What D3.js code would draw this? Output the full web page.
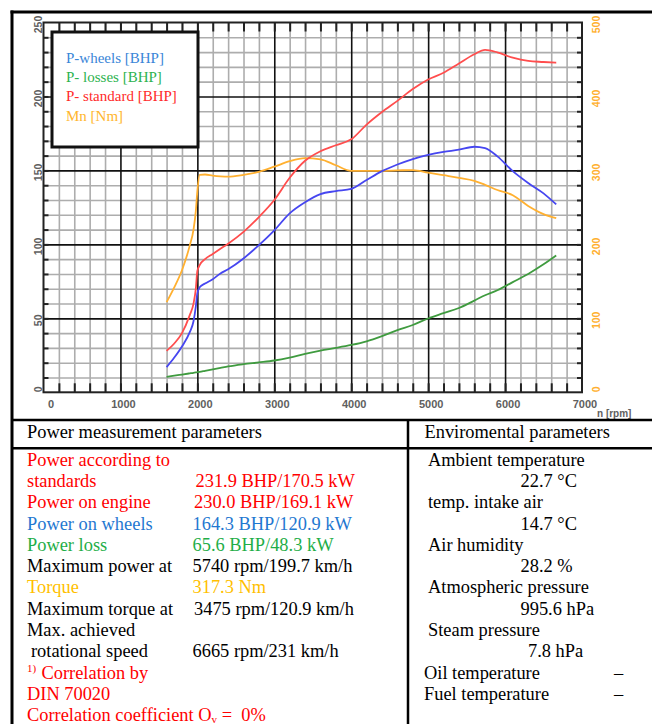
<!DOCTYPE html>
<html><head><meta charset="utf-8">
<script src="https://cdn.jsdelivr.net/npm/d3@7/dist/d3.min.js"></script>
<style>
html,body{margin:0;padding:0;background:#fff;}
svg{display:block;}
</style></head>
<body>
<svg id="c" width="652" height="724"></svg>
<script>
// ---- data ----
const rpm = [1600,1700,1800,1900,1950,1980,2000,2030,2100,2200,2300,2400,2600,2800,3000,3200,3400,3600,3800,4000,4200,4400,4600,4800,5000,5200,5400,5600,5740,5900,6100,6300,6500,6665];
const pStandard = [28,33,40,52,60,70,82,86,90,93.5,97,100.5,108.5,118.5,130,145,156.5,163,167,171,181,189.5,197,205,211.5,216,222.3,228.5,231.5,229.8,226.2,224,223.3,222.8];
const pWheels = [17,23.5,31,40.5,48,58,67,71,73.5,76.5,80.3,83.2,90.5,99.5,109.5,121,128.5,134,136,137.5,143.5,149.5,154,157.7,160.5,162.5,164,166,165,159.5,149.5,141.5,134.5,127];
const pLosses = [10.5,11.2,12,12.8,13.2,13.4,13.6,13.8,14.5,15.5,16.5,17.5,19,20.2,21.5,23.5,26,28.2,30,32,34.5,38,42,45.5,49.9,53.5,57,62,65.6,69,74.5,80,86.5,92.5];
const torque = [122,142,165,198,220,245,272,294,294.5,293,292,291.5,294,298,305,312.5,316.5,315,307,299.5,299.5,299.5,300,300.5,297,293.5,290,286,280.5,273.5,266.5,252,241,235.5];

const xTicks = [0,1000,2000,3000,4000,5000,6000,7000];
const yLeftTicks = [0,50,100,150,200,250];
const yRightTicks = [0,100,200,300,400,500];

const legendLabels = ["P-wheels [BHP]","P- losses [BHP]","P- standard [BHP]","Mn [Nm]"];

const leftRows = [
  ["Power according to","", "red"],
  ["standards","231.9 BHP/170.5 kW","red"],
  ["Power on engine","230.0 BHP/169.1 kW","red"],
  ["Power on wheels","164.3 BHP/120.9 kW","blue"],
  ["Power loss","65.6 BHP/48.3 kW","green"],
  ["Maximum power at","5740 rpm/199.7 km/h","black"],
  ["Torque","317.3 Nm","orange"],
  ["Maximum torque at","3475 rpm/120.9 km/h","black"],
  ["Max. achieved","","black"],
  ["rotational speed","6665 rpm/231 km/h","black"],
  ["Correlation by","","red"],
  ["DIN 70020","","red"],
  ["Correlation coefficient O","","red"]
];
const rightRows = [
  ["Ambient temperature",""],
  ["","22.7 °C"],
  ["temp. intake air",""],
  ["","14.7 °C"],
  ["Air humidity",""],
  ["","28.2 %"],
  ["Atmospheric pressure",""],
  ["","995.6 hPa"],
  ["Steam pressure",""],
  ["","7.8 hPa"],
  ["Oil temperature","–"],
  ["Fuel temperature","–"]
];

// ---- layout ----
const svg = d3.select("#c");
const L = 43.5, R = 582, T = 22.5, B = 392.3;
const x = d3.scaleLinear().domain([0,7000]).range([L,R]);
const yL = d3.scaleLinear().domain([0,250]).range([B,T]);
const yR = d3.scaleLinear().domain([0,500]).range([B,T]);

const C = {
  blue:"#4646f0", red:"#ff4d4d", green:"#3f9b3f", orange:"#ffb030",
  tBlue:"#1f78d1", tRed:"#ff0000", tGreen:"#1fae48", tOrange:"#ffbf00",
  lBlue:"#3a86d8", lGreen:"#2db34f", lRed:"#ff2a2a", lOrange:"#ffb62e"
};

// grid
const g = svg.append("g");
const minorX = d3.range(200,7000,200).filter(v=>v%1000!==0);
const majorX = d3.range(1000,7000,1000);
const minorY = d3.range(10,250,10).filter(v=>v%50!==0);
const majorY = d3.range(50,250,50);

g.append("g").attr("transform",`translate(0,${B})`)
 .call(d3.axisBottom(x).tickValues(minorX).tickSize(-(B-T)).tickFormat(""))
 .call(a=>{a.select(".domain").remove(); a.selectAll("line").attr("stroke","#adadad").attr("stroke-width",1.6);});
g.append("g").attr("transform",`translate(${L},0)`)
 .call(d3.axisLeft(yL).tickValues(minorY).tickSize(-(R-L)).tickFormat(""))
 .call(a=>{a.select(".domain").remove(); a.selectAll("line").attr("stroke","#adadad").attr("stroke-width",1.6);});
g.append("g").attr("transform",`translate(0,${B})`)
 .call(d3.axisBottom(x).tickValues(majorX).tickSize(-(B-T)).tickFormat(""))
 .call(a=>{a.select(".domain").remove(); a.selectAll("line").attr("stroke","#111").attr("stroke-width",1.6);});
g.append("g").attr("transform",`translate(${L},0)`)
 .call(d3.axisLeft(yL).tickValues(majorY).tickSize(-(R-L)).tickFormat(""))
 .call(a=>{a.select(".domain").remove(); a.selectAll("line").attr("stroke","#111").attr("stroke-width",1.6);});

// inward ticks
const allX = d3.range(200,7000,200);
const allY = d3.range(10,250,10);
function tickStyle(a){a.select(".domain").remove(); a.selectAll("line").attr("stroke","#222").attr("stroke-width",2);}
g.append("g").attr("transform",`translate(0,${B})`).call(d3.axisBottom(x).tickValues(allX).tickSize(-9).tickFormat("")).call(tickStyle);
g.append("g").attr("transform",`translate(0,${T})`).call(d3.axisTop(x).tickValues(allX).tickSize(-9).tickFormat("")).call(tickStyle);
g.append("g").attr("transform",`translate(${L},0)`).call(d3.axisLeft(yL).tickValues(allY).tickSize(-5).tickFormat("")).call(tickStyle);
g.append("g").attr("transform",`translate(${R},0)`).call(d3.axisRight(yL).tickValues(allY).tickSize(-5).tickFormat("")).call(tickStyle);

// plot border
g.append("rect").attr("x",L).attr("y",T).attr("width",R-L).attr("height",B-T)
 .attr("fill","none").attr("stroke","#222").attr("stroke-width",2);

// axis labels
const axFont = "'Liberation Sans', Arial, sans-serif";
svg.append("g").selectAll("text").data(xTicks).join("text")
 .attr("x",d=>d===0 ? x(d)+7.5 : x(d)+3).attr("y",408).attr("text-anchor","middle")
 .attr("font-family",axFont).attr("font-size",11).attr("font-weight","bold").attr("fill","#606060")
 .text(d=>d);
const yOff = d => d===0 ? -3 : 2;
svg.append("g").selectAll("text").data(yLeftTicks).join("text")
 .attr("transform",d=>`translate(41.5,${yL(d)+yOff(d)}) rotate(-90)`).attr("text-anchor","middle")
 .attr("font-family",axFont).attr("font-size",10.5).attr("font-weight","bold").attr("fill","#606060")
 .text(d=>d);
svg.append("g").selectAll("text").data(yRightTicks).join("text")
 .attr("transform",d=>`translate(600,${yR(d)+yOff(d)}) rotate(-90)`).attr("text-anchor","middle")
 .attr("font-family",axFont).attr("font-size",10.5).attr("font-weight","bold").attr("fill",C.orange)
 .text(d=>d);
svg.append("text").attr("x",597).attr("y",417).attr("font-family",axFont).attr("font-size",10)
 .attr("font-weight","bold").attr("fill","#606060").text("n [rpm]");

// curves
const lineL = d3.line().x((d,i)=>x(rpm[i])).y(d=>yL(d)).curve(d3.curveMonotoneX);
const lineR = d3.line().x((d,i)=>x(rpm[i])).y(d=>yR(d)).curve(d3.curveMonotoneX);
const curves = svg.append("g").attr("fill","none").attr("stroke-width",1.8);
curves.append("path").attr("d",lineL(pLosses)).attr("stroke",C.green);
curves.append("path").attr("d",lineR(torque)).attr("stroke",C.orange);
curves.append("path").attr("d",lineL(pWheels)).attr("stroke",C.blue);
curves.append("path").attr("d",lineL(pStandard)).attr("stroke",C.red);

// legend
const serif = "'Liberation Serif', 'Times New Roman', serif";
svg.append("rect").attr("x",52).attr("y",32).attr("width",146).attr("height",115)
 .attr("fill","#fff").attr("stroke","#111").attr("stroke-width",3);
const legCols = [C.lBlue,C.lGreen,C.lRed,C.lOrange];
svg.append("g").selectAll("text").data(legendLabels).join("text")
 .attr("x",66).attr("y",(d,i)=>63+i*19.2).attr("font-family",serif).attr("font-size",15)
 .attr("fill",(d,i)=>legCols[i]).text(d=>d);

// frame & table lines
const fr = svg.append("g").attr("stroke","#000");
fr.append("line").attr("x1",10.5).attr("x2",652).attr("y1",12).attr("y2",12).attr("stroke-width",3);
fr.append("line").attr("x1",12).attr("x2",12).attr("y1",10.5).attr("y2",724).attr("stroke-width",3);
fr.append("line").attr("x1",12).attr("x2",652).attr("y1",420).attr("y2",420).attr("stroke-width",2.5);
fr.append("line").attr("x1",12).attr("x2",652).attr("y1",448.3).attr("y2",448.3).attr("stroke-width",2.5);
fr.append("line").attr("x1",408).attr("x2",408).attr("y1",420).attr("y2",724).attr("stroke-width",2.5);

const fs = 18.4;
const colorMap = {red:C.tRed, blue:C.tBlue, green:C.tGreen, orange:C.tOrange, black:"#000"};
const tbl = svg.append("g").attr("font-family",serif).attr("font-size",fs);
tbl.append("text").attr("x",27).attr("y",438).text("Power measurement parameters");
tbl.append("text").attr("x",424.5).attr("y",438).text("Enviromental parameters");
const base = i => 465.6 + i*21.3;
leftRows.forEach((r,i)=>{
  const col = colorMap[r[2]];
  let lx = 27;
  if (i===9) lx = 31;
  if (i===10) {
    tbl.append("text").attr("x",27).attr("y",base(i)-7).attr("font-size",11).attr("fill",col).text("1)");
    lx = 41.5;
  }
  const t = tbl.append("text").attr("x",lx).attr("y",base(i)).attr("fill",col).text(r[0]);
  if (i===12) {
    t.append("tspan").attr("font-size",11).attr("dy",2).text("v");
    t.append("tspan").attr("dy",-2).text("\u00a0=\u00a0\u00a00%");
  }
  if (r[1]) {
    const vx = i===1 ? 195.5 : (i===2||i===7 ? 194 : 192.5);
    tbl.append("text").attr("x",vx).attr("y",base(i)).attr("fill",col).text(r[1]);
  }
});
rightRows.forEach((r,i)=>{
  const lx = i>=10 ? 424 : 428;
  if (r[0]) tbl.append("text").attr("x",lx).attr("y",base(i)).text(r[0]);
  if (r[1]) {
    const vx = i>=10 ? 614 : (i===9 ? 528 : 520.5);
    tbl.append("text").attr("x",vx).attr("y",base(i)).text(r[1]);
  }
});
</script>
</body></html>
